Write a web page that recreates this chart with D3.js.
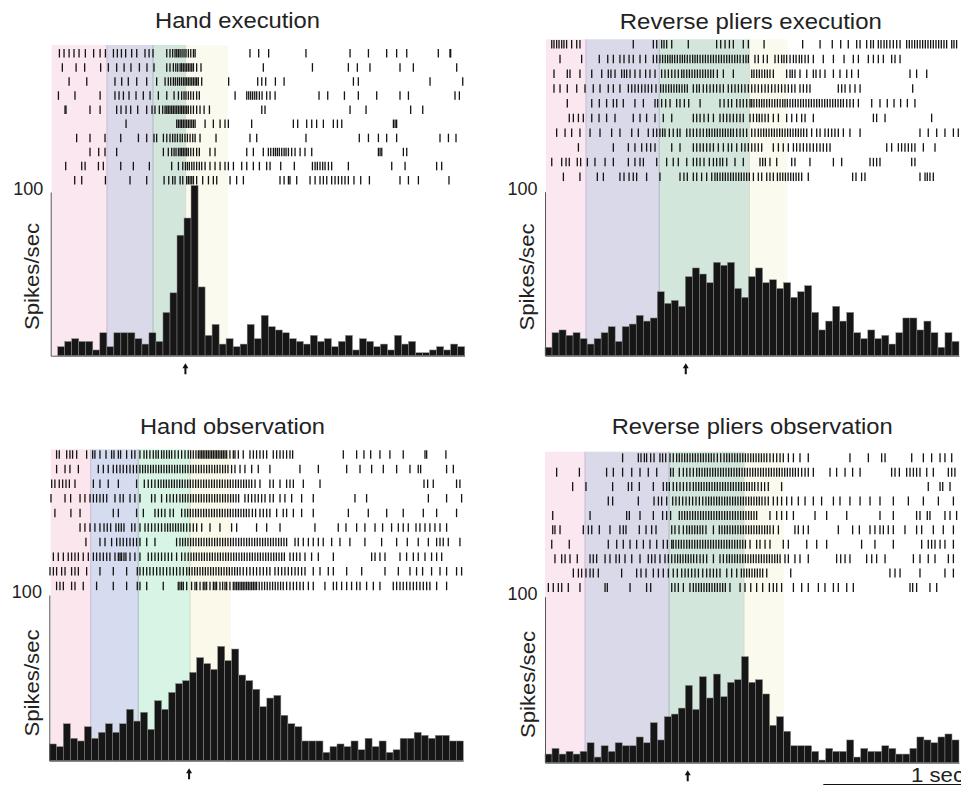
<!DOCTYPE html>
<html><head><meta charset="utf-8">
<script src="https://cdn.jsdelivr.net/npm/d3@7"></script>
<style>
body{margin:0;background:#fff}
svg{display:block}
text{font-family:"Liberation Sans",Arial,Helvetica,sans-serif;fill:#222}
</style>
</head><body>
<svg id="chart" width="961" height="786"></svg>
<script>
// ---------------- DATA ----------------
const titles = ["Hand execution", "Reverse pliers execution", "Hand observation", "Reverse pliers observation"];
const yLabel = "Spikes/sec";
const yTickValues = [100];
const binStartMs = -1000;
const binWidthMs = 50;
const windowMs = [-1000, 1950];

// firing rate per 50 ms bin (spikes/sec)
const rateHandExec = [0,5.5,8.7,10.4,8.7,8.7,3.5,14,5.5,14,14,14,10.4,7.1,14,8.7,26.4,38.4,73.6,84.1,104,42,12.4,19.1,7.1,10.4,5.5,7.1,19.1,10.4,24.6,17.7,15.7,14,10.4,8.7,7.1,12.4,8.7,10.4,5.5,8.7,12.4,3.5,10.4,8.7,5.5,7.1,3.5,12.4,7.1,8.7,1.8,1.8,3.5,5.5,3.5,7.1,5.5];
const rateReverseExec = [5.1,14,15.7,12.4,14,10.4,7.1,10.4,14,17.7,8.7,17.7,19.3,24.6,21.1,23,39,31.9,33.7,30.1,48.2,53.5,49.8,44.5,56.9,55.1,56.9,41,35.6,48.2,53.5,44.5,46.3,41,44.5,35.6,39,42.7,26.4,15.7,21.1,30.1,21.1,26.4,14,10.4,15.7,10.4,12.4,7.1,14,23,23,15.7,21.1,14,5.1,14,8.7];
const rateHandObs = [10.1,8.5,22.3,13.5,11.9,20.5,13.5,17.1,22.3,17.1,22.3,31,23.9,29.2,18.9,36.2,31,41.2,46.5,48.3,53.3,62.2,58.6,55.1,69,60.4,67.4,51.7,48.3,43.1,32.6,37.8,39.4,27.4,22.3,20.5,11.9,11.9,11.9,5,8.5,10.1,8.5,11.9,6.6,13.5,8.5,11.9,5,6.6,13.5,13.5,17.1,15.3,13.5,15.3,15.3,11.9,11.9];
const rateReverseObs = [5.2,8.6,5.2,6.8,5.2,6.8,12,3.4,10.2,6.8,12,10.2,10.2,15.5,12,24.1,13.7,27.7,29.3,32.9,46.6,32.1,51.8,39,53.4,39.8,48.4,50,63.9,48.4,50,41.4,22.5,27.7,18.9,10.2,10.2,10.2,6.8,1.6,8.6,6.8,6.8,13.7,3.4,8.6,6.8,6.8,10.2,8.6,5.2,5.2,8.6,15.5,13.7,12,15.5,17.3,13.7];

// epoch boundaries (ms): start of 1st, 2nd, 3rd, 4th epoch and end of 4th
const epochsHandExec = [-993,-599,-271,-38,263];
const epochsReverseExec = [-993,-708,-186,456,727];
const epochsHandObs = [-990,-705,-366,3,293];
const epochsReverseObs = [-1000,-715,-116,418,701];

// alignment event (arrow), ms
const eventMs = [-40, 3, -4, 17];

// scale bar (ms)
const scaleBarMs = [983, 1983];
const scaleBarLabel = "1 sec";

// spike times (ms) per trial
const spikesHandExec = [
[-938,-905,-869,-834,-798,-753,-694,-648,-610,-553,-525,-496,-466,-423,-387,-328,-299,-271,-173,-150,-131,-114,-102,-90,-78,-64,-50,-36,-19,-2,17,29,420,482,553,819,1133,1264,1394,1465,1537,1762,1845,1850],
[-917,-819,-758,-644,-589,-530,-477,-428,-368,-314,-264,-173,-150,-126,-109,-95,-78,-67,-55,-43,-31,-19,-7,5,17,40,71,515,865,1121,1185,1275,1489,1584,1893],
[-869,-743,-542,-494,-447,-387,-316,-245,-185,-162,-145,-126,-112,-97,-83,-69,-55,-43,-31,-19,-7,5,17,29,40,52,76,268,475,504,532,601,663,1157,1192,1703,1936],
[-945,-827,-648,-542,-513,-482,-442,-392,-340,-292,-233,-173,-121,-90,-67,-50,-36,-19,-2,17,40,59,314,397,411,425,439,454,468,487,506,539,563,599,912,974,1093,1192,1323,1489,1549,1881,1912],
[-898,-891,-720,-648,-530,-499,-463,-430,-380,-316,-278,-257,-226,-202,-185,-173,-162,-150,-138,-126,-114,-102,-90,-78,-67,-55,-43,-31,-19,-2,17,40,64,93,131,504,527,1133,1247,1565,1651],
[-463,-102,-90,-78,-67,-55,-43,-31,-19,-7,5,17,29,100,159,207,242,266,432,729,760,824,860,895,943,1014,1043,1074,1442,1454,1465],
[-815,-720,-613,-501,-375,-316,-264,-245,-197,-173,-150,-131,-114,-97,-78,-62,-43,-26,-7,12,29,64,178,420,468,819,1199,1264,1335,1394,1465,1774,1834,1888],
[-720,-658,-613,-530,-197,-162,-138,-121,-107,-90,-78,-67,-55,-43,-31,-19,-2,17,40,59,135,171,397,444,515,551,568,587,601,615,629,646,663,677,694,717,741,777,812,860,1335,1347,1359,1513,1537],
[-893,-779,-755,-660,-625,-501,-411,-297,-138,-90,-59,-40,-26,-12,5,21,40,59,76,100,135,171,207,242,266,302,361,397,444,487,539,563,639,736,865,884,900,919,938,955,979,1002,1121,1430,1525,1750,1786],
[-829,-779,-610,-435,-316,-192,-159,-131,-114,-78,-59,-31,-19,-7,5,17,40,83,124,159,183,278,325,373,634,663,694,705,753,848,884,919,943,967,1002,1026,1050,1074,1097,1121,1161,1209,1271,1489,1549,1620,1838]
];
const spikesReverseExec = [
[-952,-936,-917,-900,-881,-865,-846,-810,-774,-751,-371,-228,-204,-169,-152,-133,-97,21,223,252,283,314,342,413,449,561,836,960,1047,1107,1161,1221,1245,1292,1321,1340,1375,1394,1416,1435,1458,1482,1506,1530,1577,1596,1615,1634,1653,1672,1691,1710,1729,1748,1767,1786,1805,1824,1843,1862,1898,1914,1933],
[-893,-739,-613,-553,-513,-466,-437,-401,-371,-323,-283,-228,-204,-181,-162,-143,-126,-109,-93,-76,-57,-38,-21,-5,14,33,52,69,86,105,124,143,162,181,200,219,238,257,276,295,314,333,352,371,390,413,432,449,496,520,556,584,639,663,686,703,722,746,770,789,812,829,853,876,912,983,1055,1131,1197,1233,1304,1340,1375,1411,1470,1494,1530],
[-936,-841,-822,-751,-667,-596,-549,-530,-501,-454,-435,-418,-394,-359,-323,-283,-252,-216,-169,-145,-121,-97,-74,-50,-26,-10,10,29,48,67,86,105,124,143,162,181,200,228,271,342,473,489,508,527,546,565,584,603,627,722,746,762,781,817,865,912,931,960,995,1055,1102,1150,1185,1233,1601,1648,1720],
[-936,-893,-841,-774,-715,-656,-608,-549,-513,-466,-406,-382,-359,-335,-311,-287,-264,-240,-209,-176,-157,-138,-119,-100,-81,-62,-43,-24,-5,14,57,81,100,128,152,176,200,223,247,271,306,330,354,378,401,425,449,473,496,520,544,568,591,615,639,663,686,710,734,758,781,817,841,865,888,1090,1114,1138,1173,1209,1245,1620],
[-841,-667,-613,-561,-513,-489,-442,-359,-299,-216,-197,-169,-140,-109,-62,-38,-7,24,105,247,276,306,330,366,390,413,437,461,473,489,508,527,544,561,580,599,618,637,656,675,694,710,727,746,765,784,803,822,841,860,879,898,917,936,955,974,993,1012,1031,1050,1069,1088,1107,1126,1150,1173,1197,1233,1328,1387,1439,1487,1534,1582,1636],
[-827,-798,-762,-727,-667,-615,-561,-501,-371,-323,-276,-216,-157,-97,57,81,105,133,164,200,247,271,295,318,342,366,390,413,461,485,508,527,546,568,591,627,663,722,758,793,829,853,912,1340,1363,1423,1755],
[-917,-857,-810,-751,-679,-608,-525,-466,-382,-335,-264,-228,-204,-181,-162,-145,-114,-86,-57,-38,10,33,57,81,105,128,152,171,190,209,228,247,266,285,304,323,342,366,390,413,437,473,496,520,539,558,577,596,615,634,653,672,691,710,729,748,767,786,805,824,843,865,900,936,960,995,1019,1043,1066,1090,1126,1173,1245,1672,1731,1791,1850,1910,1945],
[-762,-513,-406,-359,-311,-276,-247,-216,-97,-38,57,81,105,128,152,176,200,235,271,306,330,366,401,425,449,473,496,520,544,627,663,698,734,770,793,817,841,865,888,912,936,960,983,1007,1031,1435,1470,1518,1541,1565,1589,1613,1636,1696,1779],
[-952,-881,-850,-827,-770,-746,-698,-644,-572,-513,-406,-359,-323,-299,-204,-133,-86,-50,10,57,81,105,133,171,200,223,247,266,295,354,413,532,551,570,603,651,758,781,888,1055,1114,1316,1340,1363,1387,1613,1636],
[-869,-751,-627,-584,-466,-437,-401,-371,-347,-276,-181,-38,-10,14,57,81,116,152,188,211,228,247,266,285,304,323,342,361,380,399,418,437,456,485,520,544,580,603,627,656,675,694,713,732,751,770,789,808,829,876,1192,1216,1256,1280,1672,1708,1724,1743,1767]
];
const spikesHandObs = [
[-948,-929,-876,-853,-834,-805,-734,-691,-675,-639,-596,-556,-539,-508,-492,-449,-413,-390,-354,-325,-306,-283,-259,-240,-223,-200,-183,-164,-145,-128,-105,-81,-57,-33,-10,7,26,45,62,74,86,97,109,121,133,145,157,169,181,192,204,216,228,240,252,264,287,311,323,347,382,430,454,477,501,525,549,596,620,644,667,691,715,734,1095,1190,1242,1290,1356,1427,1522,1677,1689,1826],
[-948,-888,-853,-793,-651,-615,-580,-544,-520,-496,-473,-449,-425,-401,-378,-354,-335,-316,-297,-278,-259,-240,-221,-202,-183,-164,-145,-126,-107,-88,-69,-50,-31,-12,7,26,45,64,83,102,121,140,159,178,197,216,235,254,273,299,323,359,394,442,489,572,786,917,1119,1214,1297,1380,1475,1570,1629,1646,1831,1879],
[-983,-960,-929,-905,-881,-857,-817,-686,-639,-580,-508,-378,-323,-295,-271,-247,-223,-204,-185,-166,-147,-128,-109,-90,-71,-52,-33,-14,5,24,43,62,81,100,119,138,157,176,195,214,233,252,271,290,309,328,347,366,385,404,423,442,466,501,572,596,644,691,715,739,810,929,1670,1696,1736,1902,1926],
[-988,-888,-848,-781,-746,-710,-686,-663,-639,-615,-591,-532,-496,-473,-425,-390,-354,-271,-247,-200,-164,-140,-116,-93,-69,-50,-31,-12,7,26,45,64,83,102,121,140,159,178,197,216,235,254,273,292,311,330,349,394,418,442,466,489,513,537,572,596,644,679,727,798,881,1178,1261,1701,1831,1938],
[-960,-846,-781,-544,-508,-378,-330,-247,-223,-200,-176,-140,-116,-57,-33,-14,5,24,43,62,81,100,119,138,157,176,195,214,233,252,271,290,309,328,347,366,385,404,423,447,470,501,525,549,572,620,667,691,739,798,881,1131,1273,1404,1522,1665,1760,1902],
[-781,-746,-710,-675,-639,-610,-587,-563,-525,-506,-487,-468,-413,-390,-354,-318,-295,-271,-247,-223,-200,-176,-157,-138,-119,-100,-81,-62,-43,-21,2,26,50,86,145,216,299,335,477,549,644,893,1059,1114,1190,1249,1321,1375,1439,1487,1522,1558,1613,1641,1677,1712,1748,1784,1831],
[-739,-639,-603,-556,-520,-496,-473,-449,-425,-401,-378,-354,-306,-247,-93,-69,-50,-31,-12,7,26,45,64,83,102,121,140,159,178,197,216,235,254,273,292,311,330,349,368,387,406,425,444,463,482,501,520,539,558,577,596,615,634,653,672,691,751,774,810,846,881,917,952,1012,1071,1142,1249,1368,1475,1551,1629,1701,1760,1784,1807,1843,1926],
[-971,-936,-900,-865,-841,-817,-793,-758,-722,-686,-663,-639,-615,-591,-568,-532,-508,-496,-485,-468,-454,-425,-390,-354,-295,-271,-247,-223,-200,-176,-152,-128,-93,-57,-33,-10,10,29,48,67,86,105,124,143,162,181,200,219,238,257,276,295,314,333,352,371,390,409,428,447,466,485,504,523,542,561,580,599,618,637,656,675,715,739,762,786,822,869,917,1024,1297,1321,1356,1392,1499,1546,1594,1629,1677,1724,1760,1796],
[-995,-971,-948,-912,-888,-841,-817,-793,-734,-639,-544,-449,-373,-354,-330,-306,-283,-259,-235,-211,-188,-164,-140,-116,-93,-69,-45,-21,-2,17,36,55,74,93,112,131,150,169,188,207,226,245,264,283,302,321,340,359,382,406,430,454,477,501,525,549,572,608,632,656,679,703,727,751,774,798,822,881,929,988,1024,1119,1226,1392,1487,1570,1617,1660,1724,1784,1831,1902,1938],
[-948,-924,-900,-841,-817,-758,-663,-544,-449,-373,-354,-306,-188,-81,-69,-57,-45,-21,14,38,50,74,97,109,121,145,169,181,192,216,235,252,264,287,311,323,335,347,359,371,382,394,406,418,430,442,454,466,477,496,515,534,553,572,591,610,629,648,667,691,715,739,762,786,810,846,881,964,1024,1047,1083,1119,1154,1190,1214,1261,1309,1356,1451,1475,1499,1522,1546,1570,1594,1617,1641,1665,1689,1712,1760,1831]
];
const spikesReverseObs = [
[-447,-335,-316,-292,-276,-247,-223,-181,-162,-140,-109,-86,-62,-43,-24,-5,14,33,52,71,90,109,128,147,166,185,204,228,252,276,295,314,333,352,371,390,409,428,447,466,485,504,523,542,561,580,603,627,651,675,698,734,770,817,876,1173,1304,1399,1423,1613,1696,1755,1815,1850,1898],
[-917,-755,-561,-513,-447,-382,-323,-264,-204,-105,-86,-43,-14,10,33,57,81,100,119,138,157,176,195,214,233,252,271,290,309,328,347,366,385,404,423,442,461,480,499,518,537,556,575,594,613,632,651,670,689,708,727,746,765,784,805,829,853,876,912,1031,1078,1138,1192,1245,1470,1494,1525,1577,1601,1625,1648,1672,1720,1767,1874,1898,1921],
[-803,-708,-518,-406,-382,-328,-228,-157,-133,-114,-86,-62,-38,-14,10,33,57,76,95,114,133,152,171,190,209,228,247,266,285,304,323,342,361,380,399,418,437,456,475,494,518,542,565,591,686,1731,1815,1834,1886],
[-549,-518,-335,-223,-192,-169,-133,-90,-67,-43,-19,5,29,52,76,100,124,147,166,185,204,223,242,261,280,299,318,337,356,375,394,413,432,451,470,489,508,527,546,568,591,627,656,686,722,758,805,853,912,971,1055,1102,1173,1245,1316,1387,1482,1589,1696,1803,1910],
[-945,-679,-418,-399,-323,-228,-162,-133,-105,-43,-24,-5,14,33,52,71,90,109,128,147,166,185,204,223,242,261,280,299,318,337,356,375,394,413,432,451,470,489,508,603,651,686,722,770,924,1007,1150,1387,1482,1648,1672,1724,1743,1850,1886,1933],
[-945,-929,-893,-727,-691,-667,-613,-537,-466,-442,-423,-328,-280,-240,-209,-97,-74,-45,-14,10,29,48,67,86,105,124,147,200,242,261,280,299,318,337,356,375,394,413,432,451,470,489,508,527,546,565,584,603,627,663,781,805,841,876,1090,1192,1240,1316,1351,1387,1411,1446,1482,1565,1648,1684,1767,1838,1910],
[-952,-827,-549,-489,-442,-394,-347,-299,-252,-204,-157,-128,-97,-86,-67,-48,-29,-10,10,29,48,67,86,105,124,143,162,181,200,219,238,257,276,295,314,333,352,371,390,409,428,461,508,532,568,603,698,734,865,936,1007,1256,1351,1482,1684,1731,1755,1779,1815,1850,1910],
[-929,-881,-857,-822,-770,-679,-656,-632,-572,-537,-494,-470,-430,-382,-323,-264,-240,-216,-181,-145,-121,-97,-74,-55,-36,-17,2,21,40,59,81,105,128,152,200,247,271,295,314,333,352,371,390,409,428,447,466,485,504,523,542,561,580,599,618,637,656,675,710,734,781,817,876,1078,1107,1138,1173,1292,1328,1363,1423,1625,1672,1731,1779,1874,1910],
[-798,-762,-739,-708,-679,-656,-620,-454,-347,-316,-280,-228,-192,-157,-121,-86,-57,-26,-2,21,45,69,93,124,152,176,200,223,247,295,330,366,399,418,437,456,475,494,513,532,551,580,751,1458,1494,1530,1672,1850,1910],
[-976,-941,-905,-881,-834,-751,-572,-556,-394,-276,-247,-97,-74,-50,-14,33,57,76,95,114,133,152,171,190,209,228,247,266,285,318,390,425,466,508,551,599,627,651,686,770,829,876,948,995,1055,1090,1150,1197,1601,1620,1648,1743,1791]
];

const rates = [rateHandExec, rateReverseExec, rateHandObs, rateReverseObs];
const epochs = [epochsHandExec, epochsReverseExec, epochsHandObs, epochsReverseObs];
const spikes = [spikesHandExec, spikesReverseExec, spikesHandObs, spikesReverseObs];

// ---------------- LAYOUT / STYLE ----------------
const layout = [
  {axisX:50.7, baseY:355.7, topY:192,   bandTop:45,    row0:53.3,  rowStep:14.1,  tickH:8.5, titleX:237.5, titleY:28.3,  titleLen:165, labelX:39.3, labelY:276.5},
  {axisX:545,  baseY:355.7, topY:191.7, bandTop:39.3,  row0:44.2,  rowStep:14.74, tickH:8.5, titleX:750.8, titleY:28.5,  titleLen:262, labelX:534,  labelY:277},
  {axisX:49.3, baseY:760.7, topY:595,   bandTop:449.3, row0:454.5, rowStep:14.6,  tickH:8.5, titleX:232.5, titleY:434.3, titleLen:185, labelX:39.3, labelY:683},
  {axisX:545,  baseY:762.7, topY:596.7, bandTop:451.7, row0:457.8, rowStep:14.41, tickH:9,   titleX:752.2, titleY:433.5, titleLen:281, labelX:535,  labelY:684.5}
];
const plotWidth = 414;
const bandFillsA = ["#fbe7ef","#d9d9e9","#d3e6dc","#fbfaee"];
const bandFillsB = ["#fbe6ee","#d5dcef","#d8f4e4","#fbf9ea"];
const bandEdges = ["#cdb9d9","#a9b7c2","#d3dcc6"];
const bandFills = [bandFillsA, bandFillsA, bandFillsB, bandFillsA];

const svg = d3.select("#chart");
svg.append("rect").attr("width",961).attr("height",786).attr("fill","#fff");

let lastX = null;
layout.forEach((L, p) => {
  const g = svg.append("g");
  const x = d3.scaleLinear().domain(windowMs).range([L.axisX, L.axisX + plotWidth]);
  const y = d3.scaleLinear().domain([0, 100]).range([L.baseY, L.topY]);
  lastX = x;

  // epoch bands
  const ep = epochs[p];
  const bands = d3.range(4).map(i => ({s: ep[i], e: ep[i+1], i}));
  g.selectAll("rect.band").data(bands).join("rect")
    .attr("x", d => x(d.s)).attr("width", d => x(d.e) - x(d.s))
    .attr("y", L.bandTop).attr("height", L.baseY - L.bandTop)
    .attr("fill", d => bandFills[p][d.i]);
  g.selectAll("line.edge").data(ep.slice(1, 4)).join("line")
    .attr("x1", d => x(d)).attr("x2", d => x(d))
    .attr("y1", L.bandTop).attr("y2", L.baseY)
    .attr("stroke", (d, i) => bandEdges[i]).attr("stroke-width", 1);

  // raster
  spikes[p].forEach((trial, r) => {
    const cy = L.row0 + r * L.rowStep;
    g.append("g").selectAll("line").data(trial).join("line")
      .attr("x1", d => x(d)).attr("x2", d => x(d))
      .attr("y1", cy - L.tickH/2).attr("y2", cy + L.tickH/2)
      .attr("stroke", "#141414").attr("stroke-width", 1.3);
  });

  // histogram
  const bins = rates[p].map((v, i) => ({t0: binStartMs + i*binWidthMs, t1: binStartMs + (i+1)*binWidthMs, v}));
  g.selectAll("rect.bar").data(bins).join("rect")
    .attr("x", d => x(d.t0)).attr("width", d => x(d.t1) - x(d.t0))
    .attr("y", d => y(d.v)).attr("height", d => L.baseY - y(d.v))
    .attr("fill", "#161616").attr("stroke", "#8a8a8a").attr("stroke-width", 0.5);

  // axes
  const ya = g.append("g").attr("transform", `translate(${L.axisX},0)`)
    .call(d3.axisLeft(y).tickValues(yTickValues).tickSize(0).tickSizeOuter(0).tickPadding(7.4));
  ya.select(".domain").attr("stroke", "#555").attr("stroke-width", 1);
  ya.selectAll("text").attr("font-size", 18).attr("font-family", '"Liberation Sans",Arial,sans-serif')
    .attr("dy", "0.16em").attr("fill", "#222");
  const xa = g.append("g").attr("transform", `translate(0,${L.baseY})`)
    .call(d3.axisBottom(x).tickValues([]).tickSizeOuter(0));
  xa.select(".domain").attr("stroke", "#555").attr("stroke-width", 1);

  // y label
  g.append("text").attr("transform", `translate(${L.labelX},${L.labelY}) rotate(-90)`)
    .attr("text-anchor", "middle").attr("font-size", 19.5)
    .attr("textLength", 107).attr("lengthAdjust", "spacingAndGlyphs").text(yLabel);

  // title
  g.append("text").attr("x", L.titleX).attr("y", L.titleY).attr("text-anchor", "middle")
    .attr("font-size", 22).attr("textLength", L.titleLen).attr("lengthAdjust", "spacingAndGlyphs")
    .text(titles[p]);

  // event arrow
  const ax = x(eventMs[p]), ay = L.baseY + 7.5;
  g.append("path")
    .attr("d", `M${ax},${ay} L${ax+3},${ay+5} L${ax+1},${ay+5} L${ax+1},${ay+11} L${ax-1},${ay+11} L${ax-1},${ay+5} L${ax-3},${ay+5} Z`)
    .attr("fill", "#111");
});

// scale bar (uses last panel's time scale)
svg.append("line").attr("x1", lastX(scaleBarMs[0])).attr("x2", lastX(scaleBarMs[1]))
  .attr("y1", 784.5).attr("y2", 784.5).attr("stroke", "#111").attr("stroke-width", 1.2);
svg.append("text").attr("x", 911).attr("y", 781.7).attr("font-size", 19.5)
  .attr("textLength", 53).attr("lengthAdjust", "spacingAndGlyphs").text(scaleBarLabel);
</script>
</body></html>
